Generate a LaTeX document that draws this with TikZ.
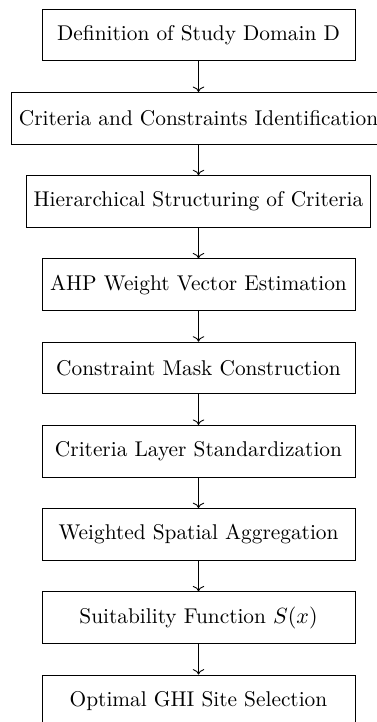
\documentclass[tikz,border=0pt]{standalone}
\usetikzlibrary{positioning}
\usetikzlibrary{arrows.meta}
\tikzset{
    flowbox/.style = {rectangle, draw=black, minimum width = 5cm, minimum height = 0.825cm, align=center, font=\fontsize{9.7pt}{11.6pt}\selectfont},
    edgen/.style = {->},
}
\begin{document}
\begin{tikzpicture}[node distance=0.49cm]
%
\useasboundingbox (-3.17,0.56) rectangle (2.84,-10.97);
%
\node[flowbox] (dom) {Definition of Study Domain D};
\node[flowbox, below=of dom] (crit) {Criteria and Constraints Identification};
\node[flowbox, below=of crit] (hier) {Hierarchical Structuring of Criteria};
\node[flowbox, below=of hier] (ahp) {AHP Weight Vector Estimation};
\node[flowbox, below=of ahp] (mask) {Constraint Mask Construction};
\node[flowbox, below=of mask] (std) {Criteria Layer Standardization};
\node[flowbox, below=of std] (agg) {Weighted Spatial Aggregation};
\node[flowbox, below=of agg] (suit) {Suitability Function $S(x)$};
\node[flowbox, below=of suit] (site) {Optimal GHI Site Selection};
%
\draw[edgen] (dom) -- (crit);
\draw[edgen] (crit) -- (hier);
\draw[edgen] (hier) -- (ahp);
\draw[edgen] (ahp) -- (mask);
\draw[edgen] (mask) -- (std);
\draw[edgen] (std) -- (agg);
\draw[edgen] (agg) -- (suit);
\draw[edgen] (suit) -- (site);

\end{tikzpicture}
\end{document}
